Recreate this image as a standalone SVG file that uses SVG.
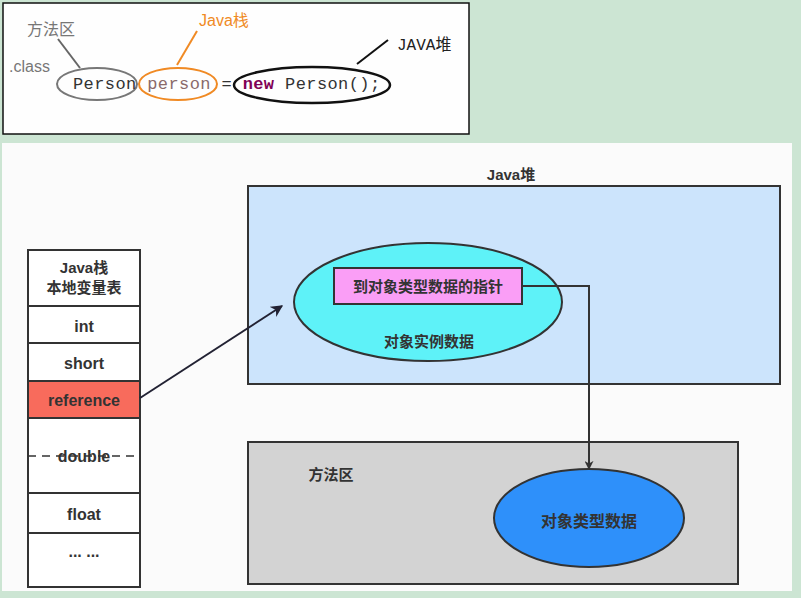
<svg xmlns="http://www.w3.org/2000/svg" width="801" height="598" viewBox="0 0 801 598">
<defs>
<style>
.t{font-family:"Liberation Sans","Noto Sans CJK SC",sans-serif;font-weight:bold;font-size:15px;fill:#333;text-anchor:middle}
.l{font-size:16px}
.cell{fill:#fff;stroke:#333;stroke-width:2}
.box{stroke:#333;stroke-width:2}
.code{font-family:"Liberation Mono",monospace;font-size:17px;letter-spacing:0.4px}
.lbl{font-family:"Liberation Sans","Noto Sans CJK SC",sans-serif;font-size:16px}
</style>
<marker id="ah" viewBox="0 0 10 10" refX="9" refY="5" markerWidth="9" markerHeight="9" orient="auto" markerUnits="userSpaceOnUse">
<path d="M0,0 L10,5 L0,10 L3,5 z" fill="#333"/>
</marker>
<marker id="ah2" viewBox="0 0 10 10" refX="9" refY="5" markerWidth="12" markerHeight="12" orient="auto" markerUnits="userSpaceOnUse">
<path d="M0,0 L10,5 L0,10 L3,5 z" fill="#223"/>
</marker>
</defs>
<rect x="0" y="0" width="801" height="598" fill="#cce5d3"/>
<!-- top code panel -->
<g id="code-panel">
<rect x="3" y="3" width="466" height="131" fill="#fefefe" stroke="#111" stroke-width="1.5"/>
<text x="9" y="72" class="lbl" fill="#777">.class</text>
<text x="27" y="35" class="lbl" fill="#777">方法区</text>
<text x="199" y="26" class="lbl" fill="#f08a24">Java栈</text>
<text x="397" y="50" font-family="Liberation Mono,Noto Sans CJK SC,monospace" font-size="16" fill="#222">JAVA<tspan font-family="Noto Sans CJK SC,sans-serif">堆</tspan></text>
<line x1="80" y1="68" x2="58" y2="39" stroke="#666" stroke-width="2"/>
<line x1="177" y1="65" x2="197" y2="31" stroke="#f08a24" stroke-width="2"/>
<line x1="357" y1="64" x2="388" y2="40" stroke="#111" stroke-width="2"/>
<ellipse cx="97" cy="84" rx="40" ry="16" fill="none" stroke="#777" stroke-width="2"/>
<ellipse cx="178" cy="84" rx="39" ry="16" fill="none" stroke="#f08a24" stroke-width="2"/>
<ellipse cx="312" cy="85" rx="78" ry="18" fill="none" stroke="#111" stroke-width="2.5"/>
<text x="73" y="89" class="code" fill="#333">Person <tspan fill="#8a6a6a">person</tspan> = <tspan fill="#7f0055" font-weight="bold">new</tspan> Person();</text>
</g>
<!-- bottom panel -->
<rect x="2" y="143" width="790" height="448" fill="#fbfbfb"/>
<g id="java-heap">
<text x="511" y="180" class="t">Java堆</text>
<rect x="248" y="186" width="532" height="198" fill="#cce4fc" class="box"/>
</g>
<g id="method-area">
<rect x="248" y="442" width="490" height="142" fill="#d3d3d3" class="box"/>
<text x="331" y="480" class="t">方法区</text>
</g>
<g id="instance-data">
<ellipse cx="428" cy="302" rx="134" ry="59" fill="#5ef2f8" class="box"/>
<text x="429" y="347" class="t">对象实例数据</text>
</g>
<g id="type-pointer">
<rect x="334" y="268" width="188" height="36" fill="#fa9ef6" class="box"/>
<text x="428" y="292" class="t">到对象类型数据的指针</text>
</g>
<g id="type-data">
<ellipse cx="589" cy="518" rx="95" ry="49" fill="#2e90fa" class="box"/>
<text x="589" y="527" class="t" style="font-size:16px">对象类型数据</text>
</g>
<g id="stack">
<rect x="28" y="250" width="112" height="56" class="cell"/>
<text x="84" y="273" class="t">Java栈</text>
<text x="84" y="293" class="t">本地变量表</text>
<rect x="28" y="306" width="112" height="37" class="cell"/>
<text x="84" y="332" class="t l">int</text>
<rect x="28" y="343" width="112" height="38" class="cell"/>
<text x="84" y="369" class="t l">short</text>
<rect x="28" y="381" width="112" height="37" fill="#f86b5c" stroke="#333" stroke-width="2"/>
<text x="84" y="406" class="t l">reference</text>
<rect x="28" y="418" width="112" height="75" class="cell"/>
<line x1="28" y1="456" x2="140" y2="456" stroke="#333" stroke-width="1.5" stroke-dasharray="8,6"/>
<text x="84" y="462" class="t l">double</text>
<rect x="28" y="493" width="112" height="40" class="cell"/>
<text x="84" y="520" class="t l">float</text>
<rect x="28" y="533" width="112" height="54" class="cell"/>
<text x="84" y="557" class="t l">... ...</text>
</g>
<g id="connectors" fill="none">
<line x1="140" y1="398" x2="282" y2="306" stroke="#223" stroke-width="2" marker-end="url(#ah2)"/>
<polyline points="522,286 589,286 589,469" stroke="#333" stroke-width="2" marker-end="url(#ah)"/>
</g>
</svg>
